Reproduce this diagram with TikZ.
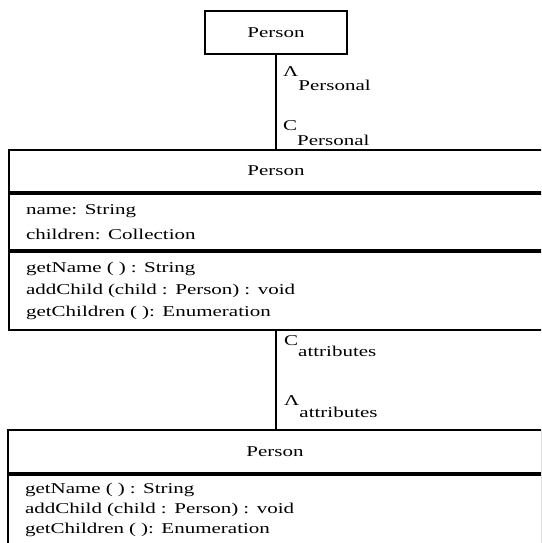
\documentclass[tikz,border=0pt]{standalone}
\usepackage{fontspec}
\setmainfont{Liberation Serif}[FakeStretch=1.4]
\usetikzlibrary{positioning}

\begin{document}
\begin{tikzpicture}
		[x=1pt, y=-1pt,
			every node/.style={font=\fontsize{15pt}{18pt}\selectfont},
			classbox/.style={draw, line width=1.9pt, inner sep=0pt},
			compartment/.style={classbox, inner xsep=17pt, text width=500pt, align=left, minimum height=#1},
			rolelabel/.style={inner sep=0pt, anchor=base west}]
		\useasboundingbox (0,0) rectangle (541,543);
		\clip (0,0) rectangle (541,543);
		% interface on top
		\node[classbox, minimum width=142pt, minimum height=43pt] (topclass) at (276,32.5) {Person};
		% full class
		\node[compartment=42pt, align=center, anchor=north] (midhead) at (276,149) {Person};
		\node[compartment=56pt, below=0pt of midhead, font=\fontsize{15pt}{25pt}\selectfont] (midattr)
			{name: String\\children: Collection};
		\node[compartment=78pt, below=0pt of midattr, font=\fontsize{15pt}{22pt}\selectfont] (midmeth)
			{getName ( ) : String\\addChild (child : Person) : void\\getChildren ( ): Enumeration};
		% class below
		\node[compartment=43pt, align=center, anchor=north] (bothead) at (275,429) {Person};
		\node[compartment=86pt, below=0pt of bothead, font=\fontsize{15pt}{20pt}\selectfont] (botmeth)
			{getName ( ) : String\\addChild (child : Person) : void\\getChildren ( ): Enumeration\\\mbox{}};
		% connectors
		\draw[line width=1.9pt] (topclass.south) -- (topclass.south |- midhead.north);
		\draw[line width=1.9pt] (midmeth.south) -- (midmeth.south |- bothead.north);
		% role labels
		\node[rolelabel] (lampers) at (283,76) {Λ\raisebox{-14pt}{Personal}};
		\node[rolelabel] (cpers) at (283,130) {C\raisebox{-15pt}{Personal}};
		\node[rolelabel] (cattr) at (284,345) {C\raisebox{-11pt}{attributes}};
		\node[rolelabel] (lamattr) at (284,405) {Λ\raisebox{-12pt}{attributes}};
	\end{tikzpicture}
\end{document}
